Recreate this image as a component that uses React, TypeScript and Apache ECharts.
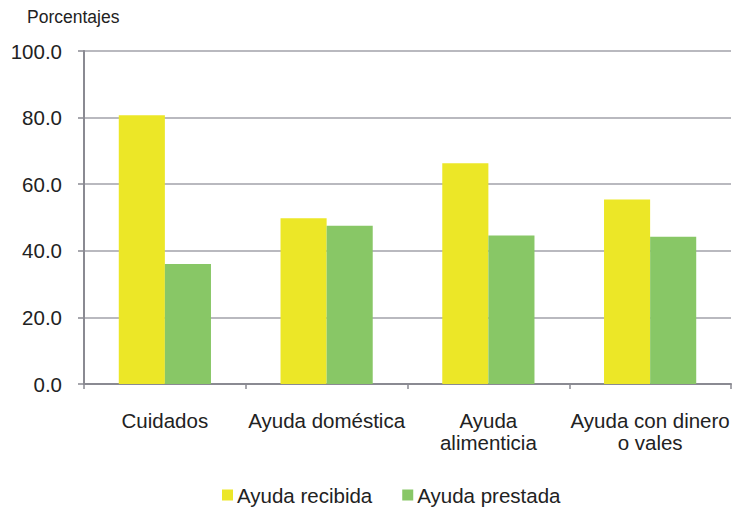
import React, { useEffect, useRef } from "react";
import * as echarts from "echarts";

const categories = ["Cuidados", "Ayuda doméstica", "Ayuda\nalimenticia", "Ayuda con dinero\no vales"];
const seriesNames = ["Ayuda recibida", "Ayuda prestada"];
const recibida = [80.7, 49.8, 66.3, 55.4];
const prestada = [36.0, 47.5, 44.6, 44.2];
const yAxisTitle = "Porcentajes";

export default function App() {
  const ref = useRef<HTMLDivElement>(null);
  useEffect(() => {
    if (!ref.current) return;
    const chart = echarts.init(ref.current, null, { renderer: "svg" });
    const font = "Liberation Sans, Arial, sans-serif";
    chart.setOption({
      animation: false,
      backgroundColor: "#ffffff",
      graphic: [
        {
          type: "text",
          left: 27,
          top: 8,
          style: { text: yAxisTitle, font: `17.5px ${font}`, fill: "#222" },
        },
      ],
      legend: {
        top: 484,
        left: 217,
        padding: [0, 5],
        itemWidth: 11,
        itemHeight: 11,
        itemGap: 30,
        icon: "rect",
        textStyle: { fontFamily: font, fontSize: 20.5, lineHeight: 22, color: "#222", padding: [0, 0, 0, -1] },
        data: seriesNames,
      },
      grid: { left: 84, right: 2, top: 51, bottom: 125, containLabel: false },
      xAxis: {
        type: "category",
        data: categories,
        axisLine: { lineStyle: { color: "#8a8a92", width: 2 } },
        axisTick: { show: true, length: 5, alignWithLabel: false, lineStyle: { color: "#8a8a92", width: 1.5 } },
        axisLabel: {
          fontFamily: font,
          fontSize: 20.5,
          color: "#222",
          margin: 25,
          lineHeight: 22,
          interval: 0,
        },
      },
      yAxis: {
        type: "value",
        min: 0,
        max: 100,
        interval: 20,
        axisLine: { show: true, lineStyle: { color: "#8a8a92", width: 2 } },
        axisTick: { show: true, length: 6, lineStyle: { color: "#8a8a92", width: 1.5 } },
        splitLine: { lineStyle: { color: "#a2a2aa", width: 1.7 } },
        axisLabel: {
          fontFamily: font,
          fontSize: 20.5,
          color: "#222",
          margin: 22,
          formatter: (v: number) => v.toFixed(1),
        },
      },
      series: [
        {
          name: seriesNames[0],
          type: "bar",
          data: recibida,
          itemStyle: { color: "#ece727" },
          barGap: "0%",
          barCategoryGap: "43%",
        },
        {
          name: seriesNames[1],
          type: "bar",
          data: prestada,
          itemStyle: { color: "#88c766" },
          barGap: "0%",
          barCategoryGap: "43%",
        },
      ],
    });
    return () => chart.dispose();
  }, []);
  return <div ref={ref} style={{ width: 733, height: 509, position: "absolute", left: 0, top: 0 }} />;
}
